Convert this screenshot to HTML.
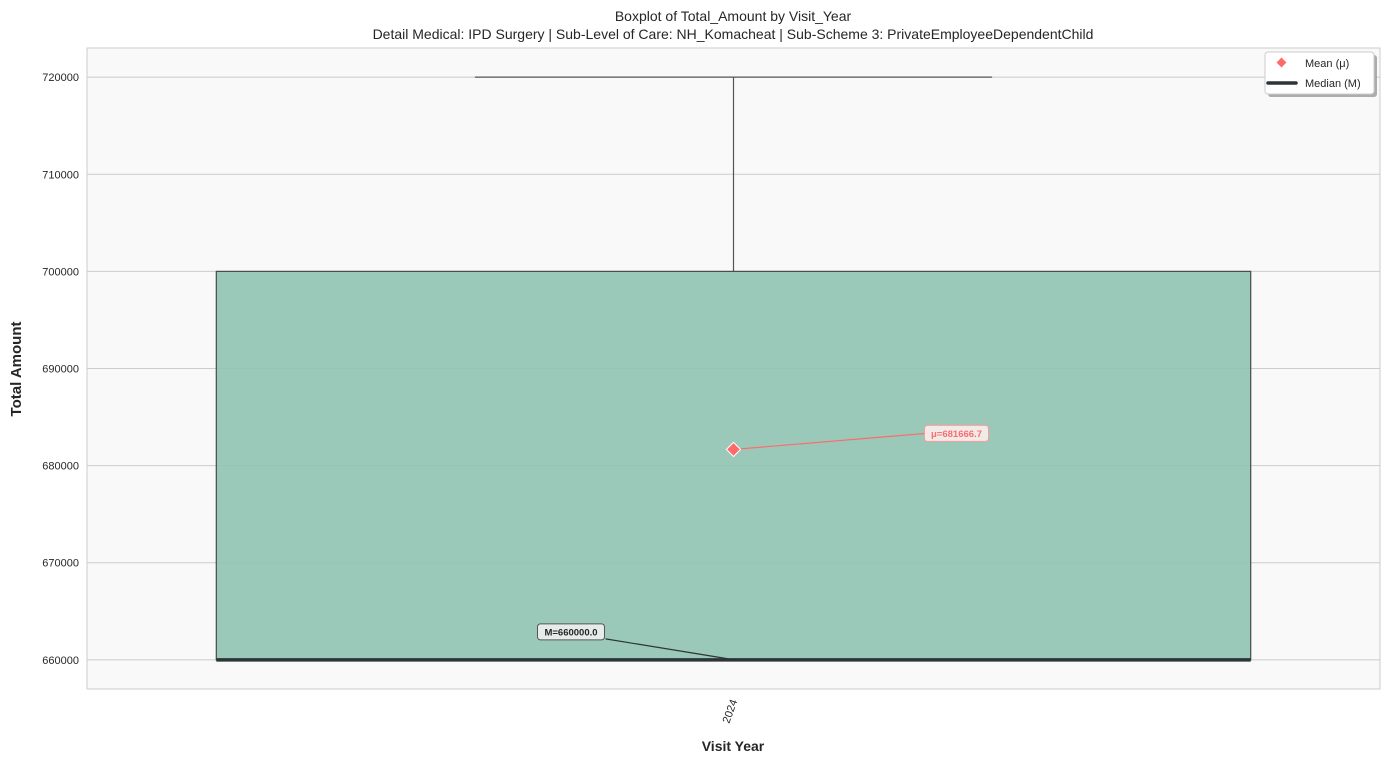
<!DOCTYPE html>
<html><head><meta charset="utf-8"><style>
html,body{margin:0;padding:0;background:#fff;}
svg{display:block;font-family:"Liberation Sans",Arial,sans-serif;}
</style></head><body>
<svg id="chart" width="1389" height="763">
<text x="733" y="21" text-anchor="middle" font-size="14" fill="#262626">Boxplot of Total_Amount by Visit_Year</text>
<text x="733" y="39" text-anchor="middle" font-size="14" fill="#262626">Detail Medical: IPD Surgery | Sub-Level of Care: NH_Komacheat | Sub-Scheme 3: PrivateEmployeeDependentChild</text>
<rect x="87" y="48" width="1293" height="641" fill="#f9f9f9" stroke="#cccccc"/>
<g id="grid"></g>
<g id="marks"></g>
<text x="733" y="751" text-anchor="middle" font-size="14" font-weight="bold" fill="#262626">Visit Year</text>
<text transform="translate(21,369) rotate(-90)" text-anchor="middle" font-size="15" font-weight="bold" fill="#262626">Total Amount</text>
<g>
<rect x="1268" y="55" width="109" height="42" rx="3" fill="#999" opacity="0.8"/>
<rect x="1265" y="52" width="109" height="42" rx="3" fill="#fff" stroke="#ccc"/>
<rect x="1278" y="59" width="7" height="7" fill="#ff6b6b" transform="rotate(45 1281.5 62.5)"/>
<text x="1305" y="67" font-size="11" fill="#262626">Mean (μ)</text>
<line x1="1268" y1="83" x2="1296" y2="83" stroke="#2d3436" stroke-width="3.5" stroke-linecap="round"/>
<text x="1305" y="87" font-size="11" fill="#262626">Median (M)</text>
</g>
</svg>
<script>
const categories = ["2024"];
const q1Values = [660000];
const q3Values = [700000];
const medianValues = [660000];
const minValues = [660000];
const maxValues = [720000];
const meanValues = [681666.7];
const yTicks = [660000, 670000, 680000, 690000, 700000, 710000, 720000];
const yMin = 657000, yMax = 723000;
const plotL = 87, plotR = 1380, plotT = 48, plotB = 689;
const NS = "http://www.w3.org/2000/svg";
function y(v){ return plotB - (v - yMin) / (yMax - yMin) * (plotB - plotT); }
const band = (plotR - plotL) / categories.length;
function xc(i){ return plotL + band * (i + 0.5); }
function mk(tag, attrs, parent){ const e = document.createElementNS(NS, tag); for (const k in attrs) e.setAttribute(k, attrs[k]); parent.appendChild(e); return e; }
const grid = document.getElementById('grid');
const marks = document.getElementById('marks');
const svg = document.getElementById('chart');
yTicks.forEach(t => {
  const g = mk('line', {x1: plotL, x2: plotR, y1: y(t), y2: y(t), stroke: '#cccccc', 'stroke-width': 1}, grid);
  
  
  const l = mk('text', {x: plotL - 8, y: y(t) + 4, 'text-anchor': 'end', 'font-size': 11, fill: '#262626'}, svg);
  l.textContent = t;
  
  
});
categories.forEach((c, i) => {
  const cx = xc(i), bw = band * 0.8, cw = band * 0.4;
  const w1 = mk('line', {x1: cx, x2: cx, y1: y(q3Values[i]), y2: y(maxValues[i]), stroke: '#555', 'stroke-width': 1.2}, marks);
  
  
  const cap = mk('line', {x1: cx - cw / 2, x2: cx + cw / 2, y1: y(maxValues[i]), y2: y(maxValues[i]), stroke: '#555', 'stroke-width': 1.2}, marks);
  
  
  const box = mk('rect', {x: cx - bw / 2, y: y(q3Values[i]), width: bw, height: y(q1Values[i]) - y(q3Values[i]), fill: '#8fc3b3', 'fill-opacity': 0.9, stroke: '#4a4a4a', 'stroke-width': 1.2}, marks);
  
  
  const med = mk('line', {x1: cx - bw / 2, x2: cx + bw / 2, y1: y(medianValues[i]), y2: y(medianValues[i]), stroke: '#2d3436', 'stroke-width': 3.5}, marks);
  
  
  const my = y(meanValues[i]);
  const al = mk('line', {x1: cx, y1: my, x2: cx + 192, y2: my - 16, stroke: '#ff6b6b', 'stroke-width': 1.2}, marks);
  
  
  const mr = mk('rect', {x: cx - 5, y: my - 5, width: 10, height: 10, fill: '#ff6b6b', stroke: '#fff', 'stroke-width': 1, transform: `rotate(45 ${cx} ${my})`}, marks);
  
  
  const mb = mk('rect', {x: cx + 191, y: my - 24, width: 64, height: 16, rx: 3, fill: '#f0ebe8', stroke: '#ff9a9a'}, marks);
  
  
  const mt = mk('text', {x: cx + 223, y: my - 12.5, 'text-anchor': 'middle', 'font-size': 9.5, 'font-weight': 'bold', fill: '#ff6b6b'}, marks);
  mt.textContent = 'μ=' + meanValues[i].toFixed(1);
  
  
  const medY = y(medianValues[i]);
  const ml = mk('line', {x1: cx - 128, y1: medY - 21, x2: cx - 5, y2: medY - 1, stroke: '#2d3436', 'stroke-width': 1.2}, marks);
  
  
  const bb = mk('rect', {x: cx - 196, y: medY - 36, width: 67, height: 16, rx: 3, fill: '#e6ece9', stroke: '#555'}, marks);
  
  
  const bt = mk('text', {x: cx - 162.5, y: medY - 24.5, 'text-anchor': 'middle', 'font-size': 9.5, 'font-weight': 'bold', fill: '#262626'}, marks);
  bt.textContent = 'M=' + medianValues[i].toFixed(1);
  
  
  const xl = mk('text', {transform: `translate(${cx + 4},${plotB + 12}) rotate(-70)`, 'text-anchor': 'end', 'font-size': 11, fill: '#262626'}, svg);
  xl.textContent = c;
  
  
});
</script>
</body></html>
